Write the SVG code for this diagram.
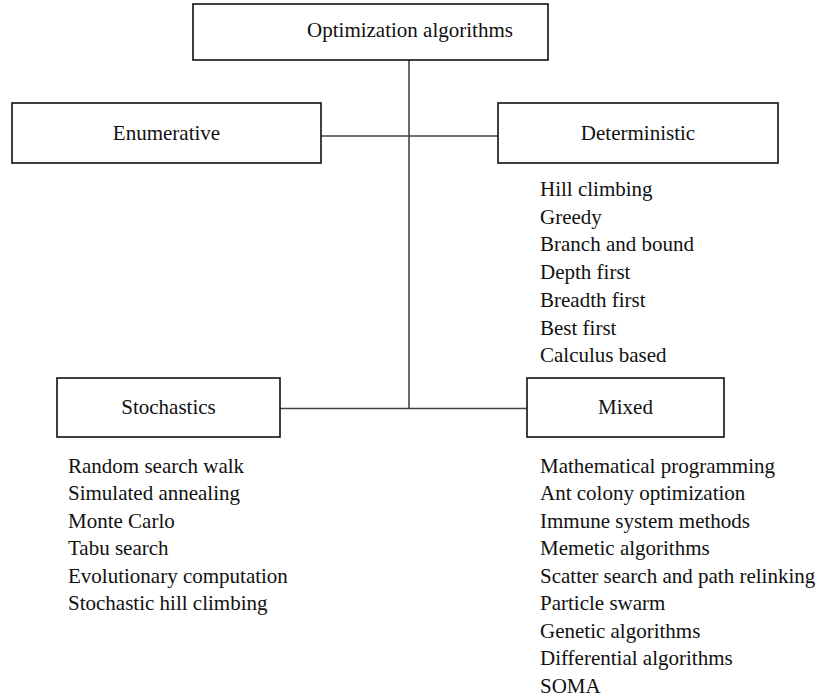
<svg xmlns="http://www.w3.org/2000/svg" width="821" height="698" viewBox="0 0 821 698">
<style>
.box{fill:#fff;stroke:#111;stroke-width:1.6}
.conn{stroke:#444;stroke-width:1.6;fill:none}
text{font-family:"Liberation Serif","Times New Roman",serif;font-size:21px;fill:#111}
.c{text-anchor:middle}
</style>
<rect width="821" height="698" fill="#fff"/>
<g id="connectors">
<line class="conn" x1="409" y1="60" x2="409" y2="408"/>
<line class="conn" x1="321" y1="136" x2="498" y2="136"/>
<line class="conn" x1="280" y1="408.5" x2="527" y2="408.5"/>
</g>
<g id="optimization-algorithms">
<rect class="box" x="193" y="4" width="355" height="56"/>
<text class="c" x="410" y="37">Optimization algorithms</text>
</g>
<g id="enumerative">
<rect class="box" x="12" y="103" width="309" height="60"/>
<text class="c" x="166.5" y="140">Enumerative</text>
</g>
<g id="deterministic">
<rect class="box" x="498" y="103" width="280" height="60"/>
<text class="c" x="638" y="140">Deterministic</text>
<text x="540" y="196">Hill climbing</text>
<text x="540" y="223.7">Greedy</text>
<text x="540" y="251.4">Branch and bound</text>
<text x="540" y="279.1">Depth first</text>
<text x="540" y="306.8">Breadth first</text>
<text x="540" y="334.5">Best first</text>
<text x="540" y="362.2">Calculus based</text>
</g>
<g id="stochastics">
<rect class="box" x="57" y="378" width="223" height="59"/>
<text class="c" x="168.5" y="414">Stochastics</text>
<text x="68" y="472.5">Random search walk</text>
<text x="68" y="500">Simulated annealing</text>
<text x="68" y="527.5">Monte Carlo</text>
<text x="68" y="555">Tabu search</text>
<text x="68" y="582.5">Evolutionary computation</text>
<text x="68" y="610">Stochastic hill climbing</text>
</g>
<g id="mixed">
<rect class="box" x="527" y="378" width="197" height="59"/>
<text class="c" x="625.5" y="414">Mixed</text>
<text x="540" y="472.5">Mathematical programming</text>
<text x="540" y="500">Ant colony optimization</text>
<text x="540" y="527.5">Immune system methods</text>
<text x="540" y="555">Memetic algorithms</text>
<text x="540" y="582.5">Scatter search and path relinking</text>
<text x="540" y="610">Particle swarm</text>
<text x="540" y="637.5">Genetic algorithms</text>
<text x="540" y="665">Differential algorithms</text>
<text x="540" y="692.5">SOMA</text>
</g>
</svg>
